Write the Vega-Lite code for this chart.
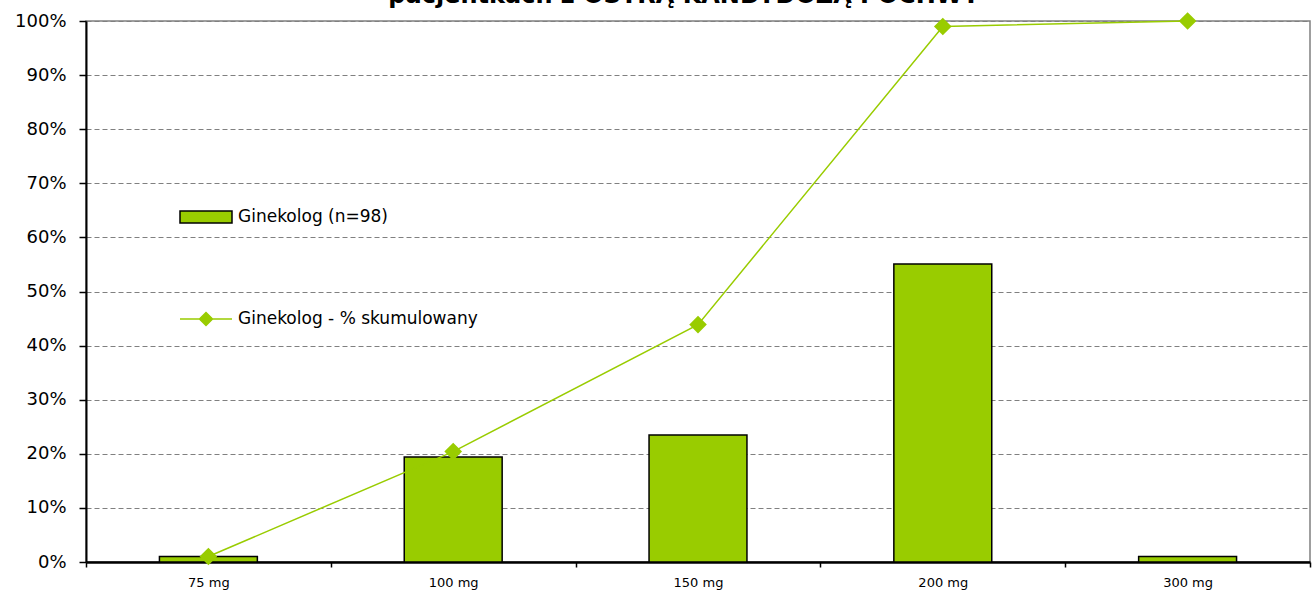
{
  "$schema": "https://vega.github.io/schema/vega-lite/v6.json",
  "width": 1224,
  "height": 541,
  "autosize": {"type": "none"},
  "padding": {"left": 86, "top": 21, "right": 2, "bottom": 30},
  "background": "white",
  "config": {
    "font": "DejaVu Sans",
    "view": {"stroke": "#808080", "strokeWidth": 1.5}
  },
  "title": {
    "text": "pacjentkach z OSTRĄ KANDYDOZĄ POCHWY",
    "fontSize": 24,
    "fontWeight": "bold",
    "color": "black",
    "anchor": "middle",
    "offset": 0,
    "dy": 22,
    "dx": -14,
    "baseline": "bottom"
  },
  "data": {
    "values": [
      {"dawka": "75 mg", "pct": 0.0102, "cum": 0.0102},
      {"dawka": "100 mg", "pct": 0.1939, "cum": 0.2041},
      {"dawka": "150 mg", "pct": 0.2347, "cum": 0.4388},
      {"dawka": "200 mg", "pct": 0.551, "cum": 0.9898},
      {"dawka": "300 mg", "pct": 0.0102, "cum": 1.0}
    ]
  },
  "encoding": {
    "x": {
      "field": "dawka",
      "type": "ordinal",
      "sort": null,
      "scale": {"paddingInner": 0, "paddingOuter": 0},
      "axis": {
        "title": null,
        "labelAngle": 0,
        "labelFontSize": 13,
        "labelColor": "black",
        "labelPadding": 9,
        "domainColor": "black",
        "domainWidth": 2.5,
        "tickColor": "black",
        "tickWidth": 1.5,
        "tickSize": 5,
        "tickBand": "extent",
        "grid": false
      }
    }
  },
  "layer": [
    {
      "mark": {"type": "bar", "stroke": "black", "strokeWidth": 1.5, "width": {"band": 0.4}},
      "encoding": {
        "y": {
          "field": "pct",
          "type": "quantitative",
          "scale": {"domain": [0, 1]},
          "axis": {
            "title": null,
            "format": ".0%",
            "values": [0, 0.1, 0.2, 0.3, 0.4, 0.5, 0.6, 0.7, 0.8, 0.9, 1],
            "labelFontSize": 18,
            "labelColor": "black",
            "labelPadding": 13,
            "domainColor": "black",
            "domainWidth": 2,
            "tickColor": "black",
            "tickWidth": 1.5,
            "tickSize": 7,
            "grid": true,
            "gridColor": "#808080",
            "gridDash": [5, 3],
            "gridWidth": 1
          }
        },
        "fill": {
          "datum": "Ginekolog (n=98)",
          "type": "nominal",
          "scale": {"range": ["#99CC00"]},
          "legend": {
            "title": null,
            "orient": "none",
            "legendX": 93,
            "legendY": 169,
            "padding": 0,
            "labelFontSize": 17,
            "labelColor": "black",
            "labelOffset": 5,
            "labelLimit": 0,
            "symbolType": "M-1,-0.23H1V0.23H-1Z",
            "symbolSize": 2704,
            "symbolStrokeColor": "black",
            "symbolStrokeWidth": 1.5
          }
        }
      }
    },
    {
      "mark": {
        "type": "line",
        "strokeWidth": 1.5,
        "point": {"shape": "diamond", "size": 220, "filled": true, "fill": "#99CC00"}
      },
      "encoding": {
        "y": {"field": "cum", "type": "quantitative"},
        "stroke": {
          "datum": "Ginekolog - % skumulowany",
          "type": "nominal",
          "scale": {"range": ["#99CC00"]},
          "legend": {
            "title": null,
            "orient": "none",
            "legendX": 93,
            "legendY": 271,
            "padding": 0,
            "labelFontSize": 17,
            "labelColor": "black",
            "labelOffset": 5,
            "labelLimit": 0,
            "symbolType": "M-1,0H1M0,-0.25L0.25,0L0,0.25L-0.25,0Z",
            "symbolSize": 2704,
            "symbolFillColor": "#99CC00",
            "symbolStrokeWidth": 1.5
          }
        }
      }
    }
  ]
}
